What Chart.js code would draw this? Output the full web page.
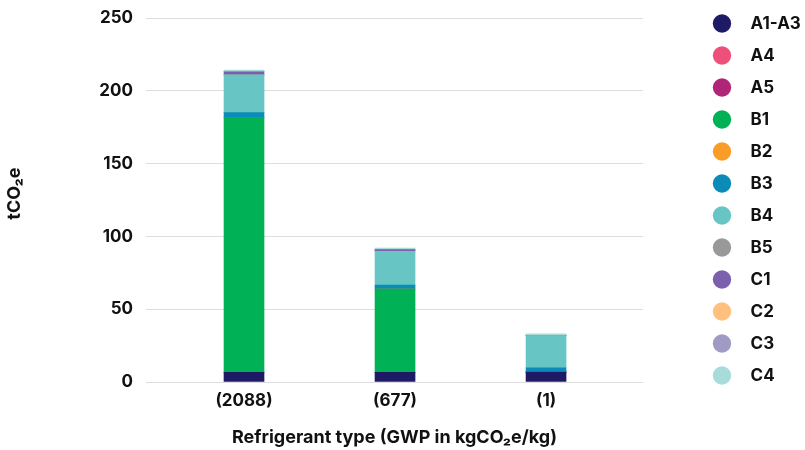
<!DOCTYPE html>
<html>
<head>
<meta charset="utf-8">
<script src="https://cdn.jsdelivr.net/npm/chart.js@4"></script>
<style>
  html, body { margin: 0; padding: 0; background: #fff; }
  #wrap { width: 805px; height: 450px; }
</style>
</head>
<body>
<div id="wrap"><canvas id="chart"></canvas></div>
<script>
// categories and series (tCO2e)
const categories = ['(2088)', '(677)', '(1)'];
const yTicks = [0, 50, 100, 150, 200, 250];

const a1a3 = [6.7, 6.7, 6.8];
const a4 = [0, 0, 0];
const a5 = [0, 0, 0];
const b1 = [175.1, 57.2, 0];
const b2 = [0, 0, 0];
const b3 = [3.2, 2.7, 3.0];
const b4 = [25.9, 23.2, 22.0];
const b5 = [0, 0, 0];
const c1 = [2.2, 1.1, 0];
const c2 = [0, 0, 0];
const c3 = [0, 0, 0];
const c4 = [1.2, 1.1, 1.2];

const series = [
  { label: 'A1-A3', data: a1a3, color: '#1f1a66' },
  { label: 'A4', data: a4, color: '#ef4f7b' },
  { label: 'A5', data: a5, color: '#b02578' },
  { label: 'B1', data: b1, color: '#00b156' },
  { label: 'B2', data: b2, color: '#f99d27' },
  { label: 'B3', data: b3, color: '#0a8bb8' },
  { label: 'B4', data: b4, color: '#67c6c4' },
  { label: 'B5', data: b5, color: '#999999' },
  { label: 'C1', data: c1, color: '#7a60ad' },
  { label: 'C2', data: c2, color: '#ffc07f' },
  { label: 'C3', data: c3, color: '#a09bc4' },
  { label: 'C4', data: c4, color: '#a8dcda' }
];

const textColor = '#111111';
const tickFont = { family: 'Inter', size: 17, weight: '700' };
const titleFont = { family: 'Inter', size: 18, weight: '700' };
const legendFont = { family: 'Inter', size: 17, weight: '700' };

// eslint-disable-next-line no-unused-vars
const chart = new Chart(document.getElementById('chart'), {
  type: 'bar',
  data: {
    labels: categories.map((c, i) => i),
    datasets: series.map(s => ({
      label: s.label,
      data: s.data,
      backgroundColor: s.color,
      borderWidth: 0,
      barThickness: 40
    }))
  },
  options: {
    responsive: true,
    maintainAspectRatio: false,
    animation: false,
    layout: {
      padding: 0
    },
    plugins: {
      tooltip: { enabled: false },
      legend: {
        position: 'right',
        align: 'start',
        maxWidth: 106,
        labels: {
          usePointStyle: true,
          pointStyle: 'circle',
          boxWidth: 16,
          boxHeight: 13,
          padding: 15,
          color: textColor,
          font: legendFont,
          generateLabels: ch => ch.data.datasets.map((d, i) => ({
            text: '   ' + d.label,
            fillStyle: d.backgroundColor,
            strokeStyle: d.backgroundColor,
            lineWidth: 0,
            pointStyle: 'circle',
            fontColor: textColor,
            datasetIndex: i
          }))
        }
      }
    },
    scales: {
      x: {
        type: 'linear',
        stacked: true,
        offset: false,
        min: -0.649,
        max: 2.642,
        grid: { display: false, drawTicks: false },
        border: { display: false },
        afterBuildTicks: s => {
          s.ticks = categories.map((c, i) => ({ value: i }));
        },
        afterFit: s => {
          s.height = 68;
        },
        ticks: {
          color: textColor,
          font: tickFont,
          padding: 9,
          callback: v => categories[v]
        },
        title: {
          display: true,
          text: 'Refrigerant type (GWP in kgCO₂e/kg)',
          color: textColor,
          font: titleFont,
          padding: { top: 4, bottom: 2 }
        }
      },
      y: {
        stacked: true,
        min: 0,
        max: 250,
        afterBuildTicks: s => {
          s.ticks = yTicks.map(v => ({ value: v }));
        },
        afterFit: s => {
          s.width = 146;
          s.paddingTop = 18;
        },
        grid: { color: '#dddddd', lineWidth: 1, drawTicks: false },
        border: { display: false },
        ticks: {
          color: textColor,
          font: tickFont,
          padding: 13
        },
        title: {
          display: true,
          text: '   tCO₂e',
          color: textColor,
          font: titleFont,
          padding: { top: 4, bottom: 0 }
        }
      },
      // empty spacer between the plot and the legend
      gap: {
        type: 'linear',
        position: 'right',
        display: true,
        grid: { display: false, drawTicks: false },
        border: { display: false },
        ticks: { display: false },
        afterFit: s => {
          s.width = 56;
        }
      }
    }
  }
});
</script>
</body>
</html>
